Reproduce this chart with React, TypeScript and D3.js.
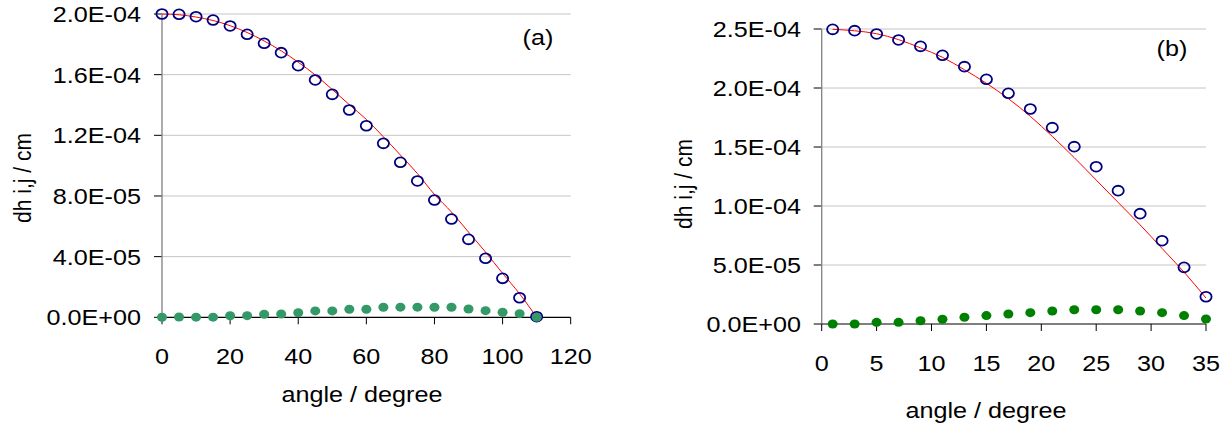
import React from 'react';
import * as d3 from 'd3';

// chart (a)
const ANGLE_A = [0, 5, 10, 15, 20, 25, 30, 35, 40, 45, 50, 55, 60, 65, 70, 75, 80, 85, 90, 95, 100, 105, 110];
// values in units of 1e-4 cm
const BLUE_A = [2.0, 1.998, 1.982, 1.96, 1.921, 1.866, 1.807, 1.745, 1.659, 1.565, 1.47, 1.367, 1.263, 1.147, 1.022, 0.899, 0.773, 0.648, 0.514, 0.389, 0.257, 0.129, 0.004];
const RED_A = [2.0, 1.995, 1.98, 1.957, 1.923, 1.878, 1.822, 1.757, 1.682, 1.598, 1.502, 1.402, 1.305, 1.19, 1.07, 0.948, 0.81, 0.694, 0.562, 0.43, 0.29, 0.155, 0.0];
const GREEN_A = [0.0, 0.002, 0.001, 0.001, 0.01, 0.011, 0.02, 0.022, 0.03, 0.042, 0.042, 0.053, 0.053, 0.066, 0.067, 0.067, 0.066, 0.066, 0.055, 0.044, 0.033, 0.024, 0.0];
const XTICKS_A = [0, 20, 40, 60, 80, 100, 120];
const YTICKS_A = [0, 0.4, 0.8, 1.2, 1.6, 2.0];
const YLABELS_A = ['0.0E+00', '4.0E-05', '8.0E-05', '1.2E-04', '1.6E-04', '2.0E-04'];

// chart (b)
const ANGLE_B = [1, 3, 5, 7, 9, 11, 13, 15, 17, 19, 21, 23, 25, 27, 29, 31, 33, 35];
const BLUE_B = [2.497, 2.486, 2.458, 2.407, 2.353, 2.277, 2.181, 2.074, 1.955, 1.822, 1.664, 1.503, 1.333, 1.13, 0.935, 0.706, 0.48, 0.231];
const RED_B = [2.497, 2.485, 2.46, 2.41, 2.34, 2.26, 2.155, 2.04, 1.91, 1.76, 1.59, 1.41, 1.22, 1.03, 0.84, 0.64, 0.44, 0.22];
const GREEN_B = [0.0, 0.0, 0.014, 0.014, 0.028, 0.04, 0.057, 0.071, 0.085, 0.096, 0.11, 0.121, 0.121, 0.121, 0.11, 0.096, 0.071, 0.042];
const XTICKS_B = [0, 5, 10, 15, 20, 25, 30, 35];
const YTICKS_B = [0, 0.5, 1.0, 1.5, 2.0, 2.5];
const YLABELS_B = ['0.0E+00', '5.0E-05', '1.0E-04', '1.5E-04', '2.0E-04', '2.5E-04'];

const FONT = 'Liberation Sans, Arial, sans-serif';
const SX = 1.12; // the source picture is stretched horizontally
const FS = 22.5;

function Txt({ x, y, anchor = 'middle', rot = 0, size = FS, children }: any) {
  const tf = `translate(${x},${y}) scale(${SX},1)` + (rot ? ` rotate(${rot})` : '');
  return (
    <text transform={tf} textAnchor={anchor} fontFamily={FONT} fontSize={size} fill="#000">
      {children}
    </text>
  );
}

function Panel({ angles, blue, red, green, xTicks, yTicks, yLabels, xDom, yDom, left, right, top, bottom,
  tag, tagX, tagY, xLabX, xLabY, xTickY, yLabX, yLabY, yTickX, greenColor }: any) {
  const x = d3.scaleLinear().domain(xDom).range([left, right]);
  const y = d3.scaleLinear().domain(yDom).range([bottom, top]);
  const line = d3.line<number>()
    .x((d, i) => x(angles[i]))
    .y(d => y(d))
    .curve(d3.curveMonotoneX);

  return (
    <g>
      {yTicks.map((t: number, i: number) => (
        <g key={'y' + i}>
          {t !== 0 && <line x1={left} x2={right} y1={y(t)} y2={y(t)} stroke="#c4c4c4" strokeWidth={1} />}
          <line x1={left - 8} x2={left} y1={y(t)} y2={y(t)} stroke="#000" strokeWidth={1} />
          <Txt x={yTickX} y={y(t) + 8} anchor="end">{yLabels[i]}</Txt>
        </g>
      ))}
      <line x1={left} x2={left} y1={top} y2={bottom} stroke="#808080" strokeWidth={1.3} />
      <line x1={left} x2={right} y1={bottom} y2={bottom} stroke="#000" strokeWidth={1.2} />
      {xTicks.map((t: number) => (
        <g key={'x' + t}>
          <line x1={x(t)} x2={x(t)} y1={bottom} y2={bottom + 7} stroke="#000" strokeWidth={1} />
          <Txt x={x(t)} y={xTickY}>{t}</Txt>
        </g>
      ))}
      <path d={line(red) || ''} fill="none" stroke="#ff0000" strokeWidth={1} />
      {blue.map((v: number, i: number) => (
        <ellipse key={'b' + i} cx={x(angles[i])} cy={y(v)} rx={5.6} ry={4.9} fill="none" stroke="#000080" strokeWidth={1.8} />
      ))}
      {green.map((v: number, i: number) => (
        <ellipse key={'g' + i} cx={x(angles[i])} cy={y(v)} rx={5} ry={4.5} fill={greenColor} />
      ))}
      <Txt x={tagX} y={tagY}>{tag}</Txt>
      <Txt x={xLabX} y={xLabY}>angle / degree</Txt>
      <Txt x={yLabX} y={yLabY} rot={-90} size={21}>dh i,j / cm</Txt>
    </g>
  );
}

export default function App() {
  return (
    <svg width={1227} height={429} style={{ position: 'absolute', left: 0, top: 0, background: '#fff' }}>
      <rect width={1227} height={429} fill="#fff" />
      <Panel angles={ANGLE_A} blue={BLUE_A} red={RED_A} green={GREEN_A}
        xTicks={XTICKS_A} yTicks={YTICKS_A} yLabels={YLABELS_A}
        xDom={[0, 120]} yDom={[0, 2.0]} left={162} right={570.7} top={14} bottom={317.3}
        tag="(a)" tagX={538} tagY={45} xLabX={362} xLabY={402} xTickY={364}
        yLabX={31} yLabY={178} yTickX={141} greenColor="#339966" />
      <Panel angles={ANGLE_B} blue={BLUE_B} red={RED_B} green={GREEN_B}
        xTicks={XTICKS_B} yTicks={YTICKS_B} yLabels={YLABELS_B}
        xDom={[0, 35]} yDom={[0, 2.5]} left={821.7} right={1206} top={29} bottom={324}
        tag="(b)" tagX={1172} tagY={56} xLabX={986} xLabY={418} xTickY={371}
        yLabX={692} yLabY={184} yTickX={801} greenColor="#008000" />
    </svg>
  );
}
